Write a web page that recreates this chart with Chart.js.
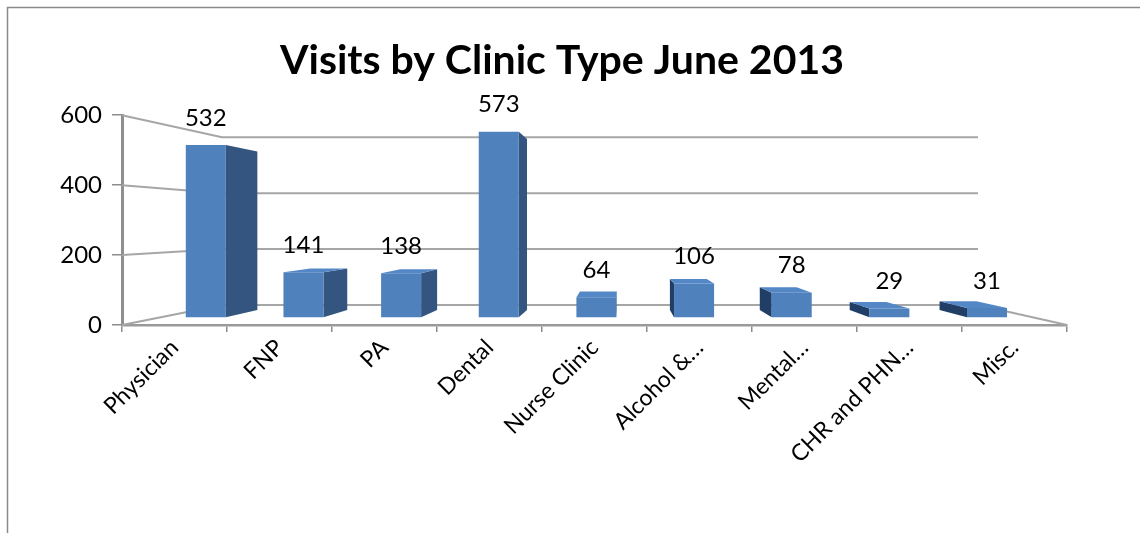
<!DOCTYPE html>
<html>
<head>
<meta charset="utf-8">
<script src="https://cdn.jsdelivr.net/npm/chart.js@4.4.0/dist/chart.umd.min.js"></script>
<style>
  html, body { margin: 0; padding: 0; background: #fff; }
  #wrap { width: 1140px; height: 533px; position: relative; }
</style>
</head>
<body>
<div id="wrap"><canvas id="clinics" width="1140" height="533"></canvas></div>
<script>
const categories = ['Physician', 'FNP', 'PA', 'Dental', 'Nurse Clinic', 'Alcohol &…', 'Mental…', 'CHR and PHN…', 'Misc.'];
const visits = [532, 141, 138, 573, 64, 106, 78, 29, 31];
const yTicks = [0, 200, 400, 600];

const FONT = 'Lato, "Liberation Sans", sans-serif';

// fake 3d: everything is projected toward a vanishing point inside the plot
const eye = { fx: 0.529, fy: 0.524 };
const depthWall = 0.8, depthFront = 0.93, depthBack = 0.856;

function vanish(chart) {
  const a = chart.chartArea;
  return { x: a.left + (a.right - a.left) * eye.fx, y: a.top + (a.bottom - a.top) * eye.fy };
}
function proj(v, x, y, s) {
  return [v.x + (x - v.x) * s, v.y + (y - v.y) * s];
}

const frame = {
  id: 'frame',
  beforeDraw(chart) {
    const ctx = chart.ctx;
    ctx.save();
    ctx.fillStyle = '#fff';
    ctx.fillRect(0, 0, chart.width, chart.height);
    ctx.strokeStyle = '#8a8a8a';
    ctx.lineWidth = 1.5;
    ctx.beginPath();
    ctx.moveTo(7.5, chart.height);
    ctx.lineTo(7.5, 7.5);
    ctx.lineTo(chart.width, 7.5);
    ctx.stroke();
    ctx.restore();
  }
};

const walls = {
  id: 'walls',
  beforeDatasetsDraw(chart) {
    const ctx = chart.ctx, a = chart.chartArea, ys = chart.scales.y, v = vanish(chart);
    ctx.save();
    ctx.strokeStyle = '#a6a6a6';
    ctx.lineWidth = 2;
    yTicks.forEach(t => {
      const fy = ys.getPixelForValue(t);
      const bl = proj(v, a.left, fy, depthWall), br = proj(v, a.right, fy, depthWall);
      ctx.beginPath();
      ctx.moveTo(a.left, fy);
      ctx.lineTo(bl[0], bl[1]);
      ctx.lineTo(br[0], br[1]);
      if (t === 0) ctx.lineTo(a.right, fy);
      ctx.stroke();
    });

    const face = (pts, color) => {
      ctx.beginPath();
      ctx.moveTo(pts[0][0], pts[0][1]);
      pts.slice(1).forEach(p => ctx.lineTo(p[0], p[1]));
      ctx.closePath();
      ctx.fillStyle = color;
      ctx.fill();
    };
    const F = (px, py) => proj(v, px, py, depthFront);
    const B = (px, py) => proj(v, px, py, depthBack);
    chart.getDatasetMeta(0).data.forEach(bar => {
      const { x, y, base, width } = bar.getProps(['x', 'y', 'base', 'width'], true);
      const l = x - width / 2, r = x + width / 2;
      if (F(r, y)[0] < v.x) face([F(r, y), B(r, y), B(r, base), F(r, base)], '#33557f');
      if (F(l, y)[0] > v.x) face([F(l, y), B(l, y), B(l, base), F(l, base)], '#213f66');
      if (F(l, y)[1] > v.y) face([F(l, y), F(r, y), B(r, y), B(l, y)], '#5487c6');
    });
    ctx.restore();

    // front faces get drawn by chart.js, pushed back to the bar depth
    ctx.save();
    ctx.translate(v.x, v.y);
    ctx.scale(depthFront, depthFront);
    ctx.translate(-v.x, -v.y);
  },
  afterDatasetsDraw(chart) {
    const ctx = chart.ctx, v = vanish(chart);
    ctx.restore();
    ctx.save();
    ctx.fillStyle = '#000';
    ctx.font = '24px ' + FONT;
    ctx.textAlign = 'center';
    ctx.textBaseline = 'middle';
    chart.getDatasetMeta(0).data.forEach((bar, i) => {
      const { x, y } = bar.getProps(['x', 'y'], true);
      const p = proj(v, x, y, depthFront);
      ctx.fillText(String(visits[i]), p[0], p[1] - 27);
    });
    ctx.restore();
  }
};

new Chart(document.getElementById('clinics'), {
  type: 'bar',
  data: {
    labels: categories,
    datasets: [{
      data: visits,
      backgroundColor: '#4f81bd',
      borderWidth: 0,
      barPercentage: 0.41,
      categoryPercentage: 1
    }]
  },
  options: {
    responsive: false,
    animation: false,
    events: [],
    layout: { padding: { left: 57, right: 73, top: 0, bottom: 0 } },
    plugins: {
      legend: { display: false },
      tooltip: { enabled: false },
      title: {
        display: true,
        text: 'Visits by Clinic Type June 2013',
        color: '#000',
        font: { family: FONT, size: 41, weight: 'bold' },
        padding: { top: 36, bottom: 30 }
      }
    },
    scales: {
      x: {
        grid: { drawOnChartArea: false, drawTicks: true, tickLength: 7, color: '#8c8c8c', lineWidth: 1.5 },
        border: { display: true, color: '#9a9a9a', width: 2.5 },
        ticks: { autoSkip: false, minRotation: 45, maxRotation: 45, color: '#000', font: { family: FONT, size: 23 }, padding: 2 },
        afterFit: s => { s.height = 208; }
      },
      y: {
        min: 0,
        max: 600,
        afterBuildTicks: s => { s.ticks = yTicks.map(t => ({ value: t })); },
        ticks: { color: '#000', font: { family: FONT, size: 24 }, padding: 10 },
        grid: { drawOnChartArea: false, drawTicks: true, tickLength: 10, color: '#8c8c8c', lineWidth: 1.5 },
        border: { display: true, color: '#8f8f8f', width: 3 },
        afterFit: s => { s.width = 65; }
      }
    }
  },
  plugins: [frame, walls]
});
</script>
</body>
</html>
